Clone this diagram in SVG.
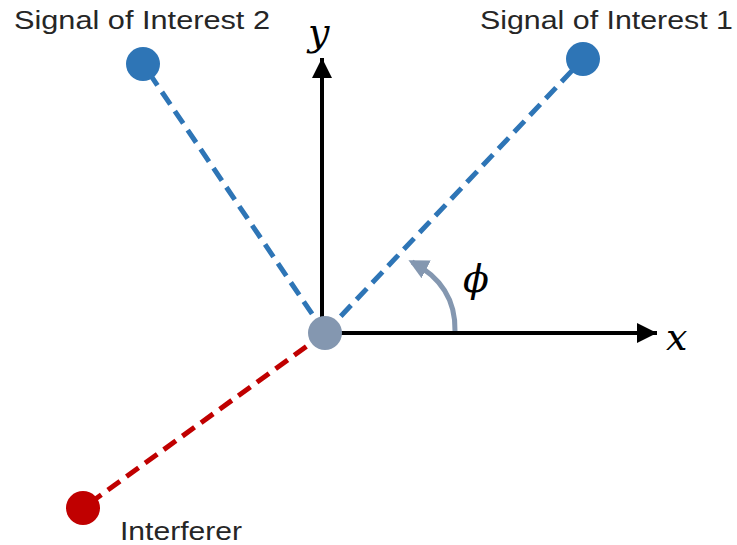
<svg xmlns="http://www.w3.org/2000/svg" width="737" height="545" viewBox="0 0 737 545">
<defs>
<style>
.lbl{font-family:"Liberation Sans",Arial,sans-serif;font-size:26px;fill:#262626}
.math{font-family:"DejaVu Serif","Liberation Serif",serif;font-style:italic;font-size:38px;fill:#000}
.blue{stroke:#2e75b6;stroke-width:5;stroke-dasharray:15 8;fill:none}
.red{stroke:#c00000;stroke-width:5;stroke-dasharray:15 8;fill:none}
.axis{stroke:#000;stroke-width:4;fill:none}
</style>
<marker id="ah" viewBox="0 0 10 10" refX="10" refY="5" markerWidth="5" markerHeight="5" markerUnits="strokeWidth" orient="auto"><path d="M0,0 L10,5 L0,10 z" fill="#000"/></marker>
<marker id="ah2" viewBox="0 0 10 10" refX="8" refY="5" markerWidth="4" markerHeight="4.4" markerUnits="strokeWidth" orient="auto"><path d="M0,0 L10,5 L0,10 z" fill="#8497b0"/></marker>
</defs>
<g id="connectors">
<line class="blue" x1="325" y1="333" x2="583" y2="59"/>
<line class="blue" x1="325" y1="333" x2="143" y2="64"/>
<line class="red" x1="325" y1="333" x2="83" y2="508"/>
<line class="axis" x1="322" y1="333" x2="322" y2="58" marker-end="url(#ah)"/>
<line class="axis" x1="325" y1="333" x2="657" y2="333" marker-end="url(#ah)"/>
<path d="M455 331 Q456 285 412 262" stroke="#8497b0" stroke-width="5" fill="none" marker-end="url(#ah2)"/>
</g>
<g id="origin"><circle cx="325" cy="333" r="17" fill="#8497b0"/></g>
<g id="soi1"><circle cx="583" cy="59" r="17" fill="#2e75b6"/><text class="lbl" x="480" y="29" textLength="253" lengthAdjust="spacingAndGlyphs">Signal of Interest 1</text></g>
<g id="soi2"><circle cx="143" cy="64" r="17" fill="#2e75b6"/><text class="lbl" x="14" y="29" textLength="256" lengthAdjust="spacingAndGlyphs">Signal of Interest 2</text></g>
<g id="interferer"><circle cx="83" cy="508" r="17" fill="#c00000"/><text class="lbl" x="120" y="540" textLength="122" lengthAdjust="spacingAndGlyphs">Interferer</text></g>
<g id="labels">
<text class="math" x="308" y="45">y</text>
<text class="math" x="666" y="350">x</text>
<text class="math" x="463" y="292">ϕ</text>
</g>
</svg>
